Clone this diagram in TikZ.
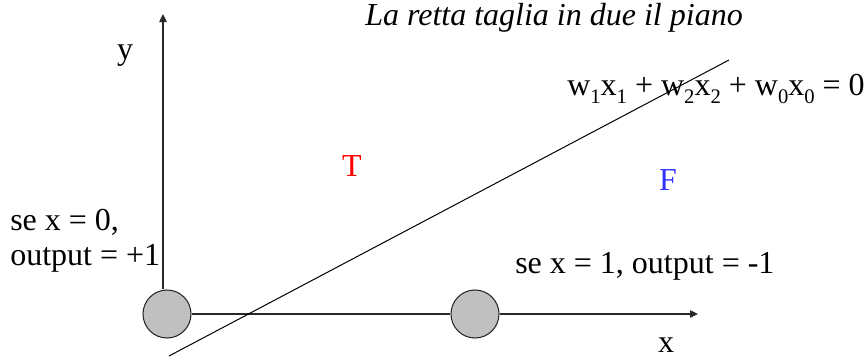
\documentclass[tikz,border=0pt]{standalone}
\usepackage{fontspec}
\setmainfont{Liberation Serif}
\usetikzlibrary{arrows.meta}
\newcommand{\sbs}[1]{\raisebox{-6.5pt}{\fontsize{15.5}{16}\selectfont #1}}
\definecolor{axiscol}{RGB}{40,40,40}
\definecolor{circfill}{RGB}{192,192,192}
\definecolor{fblue}{RGB}{51,51,255}
\begin{document}
\begin{tikzpicture}[x=0.75pt,y=-0.75pt,
  lbl/.style={inner sep=0pt,font=\fontsize{24}{27}\selectfont},
  axis/.style={draw=axiscol,line width=1pt,-{Triangle[length=6pt,width=5.5pt]}},
  axisline/.style={draw=axiscol,line width=1pt},
  dot/.style={circle,draw=axiscol,line width=0.8pt,fill=circfill,minimum size=36pt,inner sep=0pt},
  sepline/.style={draw=black,line width=0.75pt}]
\useasboundingbox (0,0) rectangle (868,357);
\coordinate (ytip) at (163,14);
\coordinate (xtip) at (698,314);
\coordinate (la) at (169,356);
\coordinate (lb) at (729,60);
\node[dot] (c1) at (167,314) {};
\node[dot] (c2) at (475,314) {};
\draw[axis] (ytip |- c1.north) -- (ytip);
\draw[axisline] (c1.east) -- (c2.west);
\draw[axis] (c2.east) -- (xtip);
\draw[sepline] (la) -- (lb);
\node[lbl,anchor=base] (ylab) at (125,59) {y};
\node[lbl,anchor=base] (xlab) at (666,352) {x};
\node[lbl,anchor=base] (title) at (554,26) {\itshape La retta taglia in due il piano};
\node[lbl,anchor=base west] (eq) at (567,95) {w\sbs{1}x\sbs{1} + w\sbs{2}x\sbs{2} + w\sbs{0}x\sbs{0} = 0};
\node[lbl,anchor=base,text=red] (tlab) at (352,176) {T};
\node[lbl,anchor=base,text=fblue] (flab) at (668,190) {F};
\node[lbl,anchor=base west] (s0a) at (10,230) {se x = 0,};
\node[lbl,anchor=base west] (s0b) at (10,265) {output = +1};
\node[lbl,anchor=base west] (s1) at (515,273) {se x = 1, output = -1};
\end{tikzpicture}
\end{document}
